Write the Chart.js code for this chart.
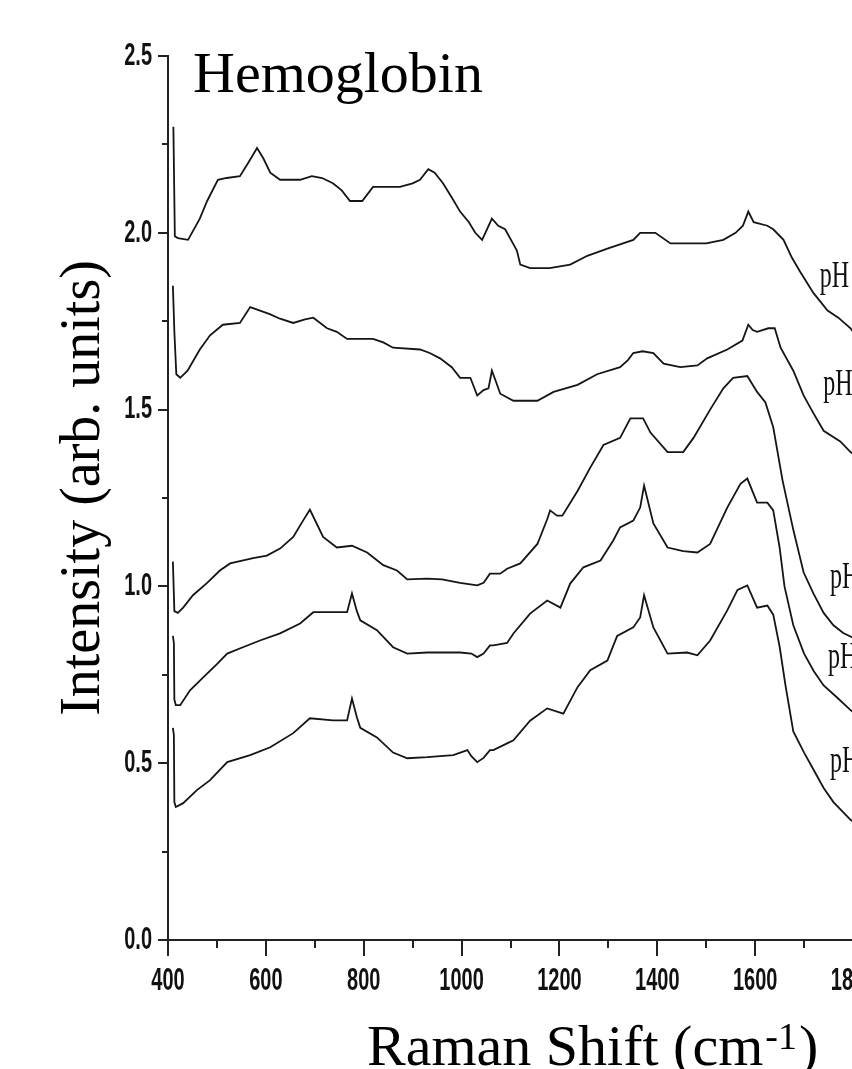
<!DOCTYPE html>
<html>
<head>
<meta charset="utf-8">
<title>Hemoglobin</title>
<script src="https://cdn.jsdelivr.net/npm/chart.js@4.4.0/dist/chart.umd.min.js"></script>
<style>
  html, body { margin: 0; padding: 0; background: #fff; overflow: hidden; }
  #quadro { width: 852px; height: 1069px; overflow: hidden; }
  canvas { display: block; }
</style>
</head>
<body>
<div id="quadro"><canvas id="grafico" width="900" height="1069"></canvas></div>
<script>
// espectros Raman, [deslocamento cm-1, intensidade], de cima para baixo
const espectro1 = [[411,2.30],[414,1.99],[420,1.985],[441,1.98],[465,2.04],[480,2.09],[502,2.15],[520,2.155],[547,2.16],[565,2.20],
  [582,2.24],[595,2.21],[609,2.17],[629,2.15],[670,2.15],[694,2.16],[715,2.155],[737,2.14],[755,2.12],[772,2.09],
  [797,2.09],[819,2.13],[850,2.13],[874,2.13],[900,2.14],[915,2.15],[932,2.18],[945,2.17],[962,2.14],[980,2.10],
  [997,2.06],[1015,2.03],[1028,2.00],[1042,1.98],[1062,2.04],[1075,2.02],[1089,2.01],[1105,1.97],[1113,1.95],[1120,1.91],
  [1140,1.90],[1180,1.90],[1222,1.91],[1257,1.935],[1298,1.955],[1330,1.97],[1351,1.98],[1365,2.00],[1396,2.00],[1427,1.97],
  [1461,1.97],[1500,1.97],[1535,1.98],[1560,2.00],[1575,2.02],[1586,2.06],[1597,2.03],[1625,2.02],[1637,2.01],[1658,1.98],
  [1675,1.93],[1692,1.89],[1719,1.83],[1748,1.78],[1770,1.76],[1795,1.73],[1800,1.72]];

const espectro2 = [[410,1.85],[413,1.72],[417,1.60],[425,1.59],[440,1.61],[465,1.67],[486,1.71],[512,1.74],[547,1.745],[568,1.79],
  [588,1.78],[608,1.77],[629,1.757],[656,1.745],[680,1.755],[697,1.76],[725,1.73],[745,1.72],[766,1.70],[790,1.70],
  [819,1.70],[840,1.69],[860,1.675],[915,1.67],[935,1.66],[956,1.645],[980,1.62],[997,1.59],[1018,1.59],[1032,1.54],
  [1045,1.555],[1055,1.56],[1062,1.61],[1070,1.58],[1079,1.545],[1106,1.525],[1155,1.525],[1188,1.55],[1237,1.57],[1277,1.60],
  [1324,1.62],[1340,1.64],[1351,1.66],[1370,1.665],[1392,1.66],[1413,1.63],[1447,1.62],[1482,1.625],[1502,1.645],[1543,1.67],
  [1574,1.695],[1586,1.74],[1595,1.725],[1604,1.72],[1627,1.73],[1640,1.73],[1652,1.675],[1678,1.61],[1699,1.54],[1719,1.49],
  [1740,1.44],[1774,1.41],[1795,1.38],[1800,1.375]];

const espectro3 = [[410,1.07],[413,0.93],[420,0.925],[431,0.94],[451,0.975],[480,1.01],[506,1.045],[527,1.065],[574,1.08],[602,1.087],
  [629,1.107],[656,1.14],[676,1.186],[690,1.217],[703,1.18],[717,1.14],[745,1.11],[776,1.115],[807,1.096],[840,1.06],
  [868,1.045],[889,1.02],[930,1.022],[960,1.02],[997,1.01],[1032,1.003],[1045,1.01],[1058,1.036],[1079,1.036],[1093,1.05],
  [1120,1.065],[1155,1.12],[1175,1.19],[1181,1.215],[1195,1.20],[1206,1.20],[1237,1.27],[1263,1.336],[1290,1.40],[1324,1.42],
  [1345,1.475],[1371,1.475],[1386,1.435],[1421,1.38],[1453,1.38],[1474,1.42],[1508,1.50],[1535,1.56],[1555,1.59],[1584,1.595],
  [1604,1.55],[1621,1.52],[1637,1.45],[1656,1.30],[1678,1.16],[1699,1.04],[1719,0.98],[1740,0.925],[1760,0.89],[1780,0.868],
  [1800,0.855]];

const espectro4 = [[410,0.86],[412,0.84],[413,0.68],[416,0.664],[425,0.664],[445,0.706],[472,0.743],[500,0.78],[521,0.81],[553,0.828],
  [588,0.847],[629,0.867],[670,0.895],[697,0.927],[725,0.927],[766,0.927],[776,0.98],[786,0.93],[793,0.904],[827,0.876],
  [860,0.828],[889,0.81],[930,0.813],[997,0.813],[1020,0.81],[1032,0.80],[1045,0.81],[1058,0.833],[1065,0.833],[1093,0.84],
  [1106,0.867],[1140,0.923],[1175,0.96],[1202,0.94],[1222,1.008],[1249,1.054],[1284,1.073],[1310,1.13],[1324,1.167],[1351,1.186],
  [1365,1.223],[1373,1.285],[1392,1.178],[1421,1.11],[1453,1.10],[1482,1.096],[1508,1.12],[1543,1.223],[1570,1.29],[1584,1.305],
  [1604,1.237],[1625,1.237],[1637,1.215],[1650,1.11],[1660,1.00],[1678,0.89],[1700,0.81],[1720,0.76],[1740,0.72],[1768,0.685],
  [1795,0.65],[1800,0.645]];

const espectro5 = [[410,0.60],[412,0.58],[413,0.39],[416,0.376],[431,0.387],[459,0.424],[486,0.452],[521,0.503],[568,0.523],[609,0.545],
  [656,0.585],[690,0.627],[737,0.621],[766,0.621],[776,0.683],[786,0.63],[793,0.60],[827,0.573],[860,0.53],[889,0.514],
  [930,0.517],[983,0.523],[1012,0.537],[1020,0.52],[1032,0.503],[1045,0.515],[1058,0.537],[1065,0.537],[1093,0.556],[1106,0.565],
  [1140,0.62],[1175,0.655],[1208,0.64],[1237,0.715],[1263,0.763],[1298,0.79],[1318,0.86],[1351,0.884],[1365,0.912],[1373,0.975],
  [1392,0.884],[1421,0.81],[1461,0.813],[1482,0.805],[1508,0.847],[1543,0.932],[1564,0.99],[1584,1.003],[1604,0.94],[1625,0.946],
  [1637,0.92],[1650,0.83],[1662,0.72],[1678,0.59],[1700,0.53],[1720,0.48],[1740,0.43],[1760,0.39],[1795,0.34],[1800,0.335]];

// rotulos de pH (cortados na borda da figura) e onde ficam, em unidades dos eixos
const rotulosPh = ['pH', 'pH', 'pH', 'pH', 'pH'];
const rotulosPhX = [1732, 1739, 1753, 1749, 1753];
const rotulosPhY = [1.847, 1.541, 0.995, 0.769, 0.475];

const xTicks = [400, 600, 800, 1000, 1200, 1400, 1600, 1800];
const xTickLabels = ['400', '600', '800', '1000', '1200', '1400', '1600', '1800'];
const xMinorTicks = [500, 700, 900, 1100, 1300, 1500, 1700];
const yTicks = [0, 0.5, 1, 1.5, 2, 2.5];
const yTickLabels = ['0.0', '0.5', '1.0', '1.5', '2.0', '2.5'];
const yMinorTicks = [0.25, 0.75, 1.25, 1.75, 2.25];

const serif = '"Liberation Serif", "Times New Roman", serif';

function textoEsticado(ctx, txt, x, y, sy) {
  ctx.save();
  ctx.translate(x, y);
  ctx.scale(1, sy);
  ctx.fillText(txt, 0, 0);
  ctx.restore();
}

const decoracao = {
  id: 'decoracao',
  afterDraw(chart) {
    const ctx = chart.ctx;
    const xs = chart.scales.x;
    const ys = chart.scales.y;
    const base = chart.chartArea.bottom;
    const esq = chart.chartArea.left;
    ctx.save();

    // marcas dos eixos
    ctx.strokeStyle = '#222';
    ctx.lineWidth = 2;
    ctx.beginPath();
    xTicks.forEach(v => { const p = Math.round(xs.getPixelForValue(v)); ctx.moveTo(p, base); ctx.lineTo(p, base + 16); });
    xMinorTicks.forEach(v => { const p = Math.round(xs.getPixelForValue(v)); ctx.moveTo(p, base); ctx.lineTo(p, base + 8); });
    yTicks.forEach(v => { const p = Math.round(ys.getPixelForValue(v)); ctx.moveTo(esq, p); ctx.lineTo(esq - 10, p); });
    yMinorTicks.forEach(v => { const p = Math.round(ys.getPixelForValue(v)); ctx.moveTo(esq, p); ctx.lineTo(esq - 6, p); });
    ctx.stroke();

    // numeros dos eixos (figura original esticada na vertical)
    ctx.fillStyle = '#111';
    ctx.font = 'bold 20px "Liberation Sans", Arial, sans-serif';
    ctx.textBaseline = 'middle';
    ctx.textAlign = 'center';
    xTicks.forEach((v, i) => textoEsticado(ctx, xTickLabels[i], xs.getPixelForValue(v), base + 41, 1.6));
    ctx.textAlign = 'right';
    yTicks.forEach((v, i) => textoEsticado(ctx, yTickLabels[i], esq - 16, ys.getPixelForValue(v), 1.6));

    // rotulos pH
    ctx.textAlign = 'left';
    ctx.textBaseline = 'alphabetic';
    ctx.font = '24px ' + serif;
    rotulosPh.forEach((t, i) => textoEsticado(ctx, t, xs.getPixelForValue(rotulosPhX[i]), ys.getPixelForValue(rotulosPhY[i]), 1.55));

    // titulos
    ctx.fillStyle = '#000';
    ctx.font = '58px ' + serif;
    ctx.fillText('Hemoglobin', 193, 92);

    let x0 = 367;
    ctx.fillText('Raman Shift (cm', x0, 1065);
    x0 += ctx.measureText('Raman Shift (cm').width + 2;
    ctx.font = '38px ' + serif;
    ctx.fillText('-1', x0, 1049);
    x0 += ctx.measureText('-1').width + 2;
    ctx.font = '58px ' + serif;
    ctx.fillText(')', x0, 1065);

    ctx.translate(99, 488);
    ctx.rotate(-Math.PI / 2);
    ctx.font = '56px ' + serif;
    ctx.textAlign = 'center';
    ctx.fillText('Intensity (arb. units)', 0, 0);
    ctx.restore();
  }
};

const espectros = [espectro1, espectro2, espectro3, espectro4, espectro5];

const data = {
  datasets: espectros.map(e => ({
    data: e.map(([x, y]) => ({ x: x, y: y })),
    borderColor: '#151515',
    borderWidth: 1.8,
    pointRadius: 0,
    tension: 0,
    fill: false
  }))
};

const config = {
  type: 'line',
  data: data,
  options: {
    responsive: false,
    animation: false,
    devicePixelRatio: 1,
    layout: { padding: { top: 56, right: 47, left: 0, bottom: 0 } },
    plugins: { legend: { display: false }, tooltip: { enabled: false } },
    scales: {
      x: {
        type: 'linear',
        min: 400,
        max: 1800,
        grid: { display: false, drawTicks: false },
        border: { display: true, color: '#222', width: 2 },
        ticks: { display: false },
        afterFit: s => { s.height = 129; }
      },
      y: {
        type: 'linear',
        min: 0,
        max: 2.5,
        grid: { display: false, drawTicks: false },
        border: { display: true, color: '#222', width: 2 },
        ticks: { display: false },
        afterFit: s => { s.width = 168; }
      }
    }
  },
  plugins: [decoracao]
};

const graficoHb = new Chart(document.getElementById('grafico'), config);
</script>
</body>
</html>
